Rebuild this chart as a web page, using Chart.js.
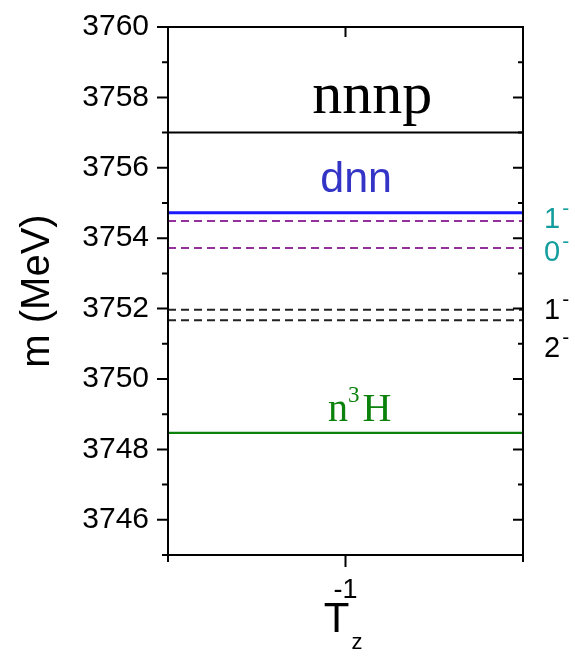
<!DOCTYPE html>
<html>
<head>
<meta charset="utf-8">
<script src="https://cdn.jsdelivr.net/npm/chart.js@4.4.1/dist/chart.umd.min.js"></script>
<style>
  html, body { margin: 0; padding: 0; background: #fff; }
</style>
</head>
<body>
<canvas id="levels" width="575" height="660"></canvas>
<script>
// Thresholds and resonances (MeV) in the Tz = -1 channel
const thresholdNames = ['nnnp', 'dnn', 'n3H'];
const thresholdMasses = [3757.0, 3754.72, 3748.47];
const stateSpins = ['1', '0', '1', '2'];
const stateParity = ['-', '-', '-', '-'];
const stateMasses = [3754.49, 3753.72, 3751.97, 3751.67];
const yTicks = [3746, 3748, 3750, 3752, 3754, 3756, 3758, 3760];
const yMinorTicks = [3745, 3747, 3749, 3751, 3753, 3755, 3757, 3759];
const xTicks = [-1];
const xMinorTicks = [-1.5, -0.5];

const SANS = '"Liberation Sans", Arial, sans-serif';
const SERIF = '"Liberation Serif", "Times New Roman", serif';

// how each level is drawn
const thresholdLook = [
    { line: '#000000', width: 2, text: '#000000', at: -0.925, lift: 20 },
    { line: '#1a1aff', width: 3, text: '#3434c6', at: -0.97, lift: 21 },
    { line: '#0b820b', width: 2.2, text: '#0b820b', at: -0.96, lift: 12 }
];
const stateLook = [
    { line: '#93309a', text: '#139d9d', dy: -3 },
    { line: '#93309a', text: '#139d9d', dy: 3 },
    { line: '#222222', text: '#000000', dy: -1 },
    { line: '#222222', text: '#000000', dy: 27 }
];

const flat = (m) => [{ x: -1.5, y: m }, { x: -0.5, y: m }];

const datasets = [];
thresholdMasses.forEach((m, i) => {
    datasets.push({
        label: thresholdNames[i],
        data: flat(m),
        borderColor: thresholdLook[i].line,
        borderWidth: thresholdLook[i].width,
        pointRadius: 0
    });
});
stateMasses.forEach((m, i) => {
    datasets.push({
        label: stateSpins[i] + stateParity[i],
        data: flat(m),
        borderColor: stateLook[i].line,
        borderWidth: 2,
        borderDash: [8, 5],
        pointRadius: 0
    });
});

// pieces of text with their own font and baseline lift
function drawPieces(ctx, pieces, cx, baseline, align) {
    let total = 0;
    pieces.forEach(p => { ctx.font = p.font; p.w = ctx.measureText(p.t).width + (p.gap || 0); total += p.w; });
    let x = align === 'left' ? cx : cx - total / 2;
    ctx.textAlign = 'left';
    ctx.textBaseline = 'alphabetic';
    pieces.forEach(p => {
        ctx.font = p.font;
        ctx.fillText(p.t, x, baseline - (p.rise || 0));
        x += p.w;
    });
}

const frameAndLabels = {
    id: 'frameAndLabels',
    afterDraw(chart) {
        const { ctx, chartArea: a, scales: { x, y } } = chart;
        ctx.save();

        // frame
        ctx.strokeStyle = '#000';
        ctx.lineWidth = 2;
        ctx.strokeRect(a.left, a.top, a.right - a.left, a.bottom - a.top);

        // tick marks: outward on left/bottom, inward on right/top
        ctx.beginPath();
        const yMark = (v, outLen, inLen) => {
            const py = y.getPixelForValue(v);
            ctx.moveTo(a.left - outLen, py); ctx.lineTo(a.left, py);
            ctx.moveTo(a.right - inLen, py); ctx.lineTo(a.right, py);
        };
        yTicks.forEach(v => yMark(v, 11, 10));
        yMinorTicks.forEach(v => yMark(v, 6, 5));
        const xMark = (v, outLen, inLen) => {
            const px = x.getPixelForValue(v);
            ctx.moveTo(px, a.bottom); ctx.lineTo(px, a.bottom + outLen);
            ctx.moveTo(px, a.top); ctx.lineTo(px, a.top + inLen);
        };
        xTicks.forEach(v => xMark(v, 12, 10));
        xMinorTicks.forEach(v => xMark(v, 7, 5));
        ctx.stroke();

        // threshold names above their lines
        const big = [
            [{ t: 'nnnp', font: `60px ${SERIF}` }],
            [{ t: 'dnn', font: `43px ${SANS}` }],
            [{ t: 'n', font: `40px ${SERIF}` }, { t: '3', font: `23px ${SERIF}`, rise: 19, gap: 3 }, { t: 'H', font: `40px ${SERIF}` }]
        ];
        thresholdMasses.forEach((m, i) => {
            ctx.fillStyle = thresholdLook[i].text;
            drawPieces(ctx, big[i], x.getPixelForValue(thresholdLook[i].at), y.getPixelForValue(m) - thresholdLook[i].lift);
        });

        // spin-parity of each resonance, right of the frame
        stateMasses.forEach((m, i) => {
            ctx.fillStyle = stateLook[i].text;
            const base = y.getPixelForValue(m) + stateLook[i].dy + 10;
            drawPieces(ctx, [
                { t: stateSpins[i], font: `29px ${SANS}`, gap: 2 },
                { t: stateParity[i], font: `21px ${SANS}`, rise: 13 }
            ], a.right + 21, base, 'left');
        });

        // x-axis title T with subscript z
        ctx.fillStyle = '#000';
        const cx = x.getPixelForValue(-1);
        ctx.font = `42px ${SANS}`;
        ctx.textAlign = 'center';
        ctx.textBaseline = 'alphabetic';
        ctx.fillText('T', cx - 9, a.bottom + 77);
        ctx.font = `22px ${SANS}`;
        ctx.textAlign = 'left';
        ctx.fillText('z', cx + 6, a.bottom + 94);

        ctx.restore();
    }
};

new Chart(document.getElementById('levels'), {
    type: 'line',
    data: { datasets },
    options: {
        responsive: false,
        animation: false,
        layout: { padding: { top: 27, right: 52, bottom: 0, left: 0 } },
        plugins: {
            legend: { display: false },
            tooltip: { enabled: false }
        },
        scales: {
            x: {
                type: 'linear',
                min: -1.5,
                max: -0.5,
                afterBuildTicks: s => { s.ticks = xTicks.map(v => ({ value: v })); },
                afterFit: s => { s.height = 105; s.paddingLeft = 0; s.paddingRight = 0; },
                ticks: { color: '#000', font: { family: SANS, size: 27 }, padding: 19 },
                grid: { display: false, drawTicks: false },
                border: { display: false }
            },
            y: {
                type: 'linear',
                min: 3745,
                max: 3760,
                afterBuildTicks: s => { s.ticks = yTicks.map(v => ({ value: v })); },
                afterFit: s => { s.width = 168; s.paddingTop = 0; s.paddingBottom = 0; },
                ticks: { color: '#000', font: { family: SANS, size: 30 }, padding: 19, callback: v => String(v) },
                grid: { display: false, drawTicks: false },
                border: { display: false },
                title: {
                    display: true,
                    text: 'm (MeV)',
                    color: '#000',
                    font: { family: SANS, size: 40 },
                    padding: { top: 14, bottom: 0 }
                }
            }
        }
    },
    plugins: [frameAndLabels]
});
</script>
</body>
</html>
